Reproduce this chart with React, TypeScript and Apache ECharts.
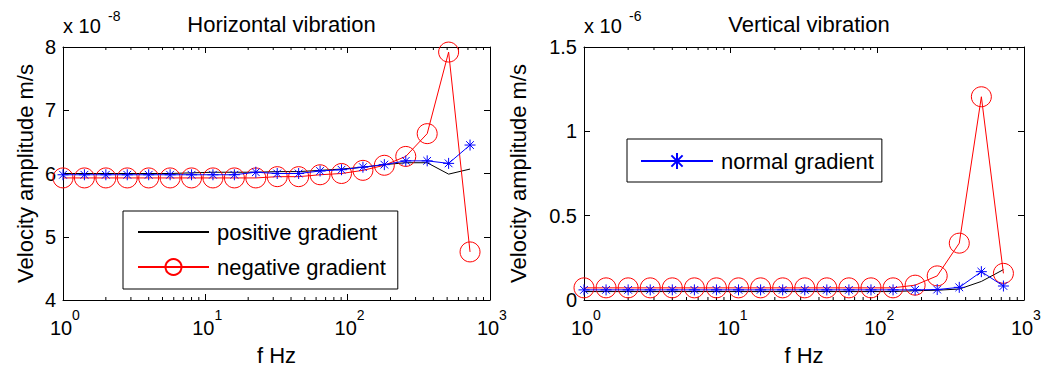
import React, { useEffect, useRef } from "react";
import * as echarts from "echarts";

// frequencies (Hz)
const freq = [1, 1.414, 2, 2.828, 4, 5.657, 8, 11.31, 16, 22.63, 32, 45.25, 64, 90.51, 128, 181, 256, 362, 512, 724];

// Horizontal vibration (x 1e-8 m/s)
const hPositive = [6.0, 6.0, 6.0, 6.0, 6.0, 6.0, 6.01, 6.02, 6.02, 6.02, 6.03, 6.03, 6.05, 6.07, 6.1, 6.14, 6.17, 6.17, 5.99, 6.07];
const hNegative = [5.93, 5.93, 5.93, 5.93, 5.93, 5.93, 5.93, 5.93, 5.93, 5.93, 5.95, 5.95, 5.98, 6.0, 6.05, 6.13, 6.27, 6.63, 7.92, 4.76];
const hNormal = [5.98, 5.98, 5.98, 5.98, 5.98, 5.98, 5.98, 5.98, 5.98, 6.02, 6.0, 6.0, 6.04, 6.06, 6.1, 6.14, 6.2, 6.2, 6.16, 6.45];

// Vertical vibration (x 1e-6 m/s)
const vPositive = [0.05, 0.05, 0.05, 0.05, 0.05, 0.05, 0.05, 0.05, 0.05, 0.05, 0.05, 0.05, 0.05, 0.05, 0.05, 0.055, 0.058, 0.065, 0.11, 0.18];
const vNegative = [0.072, 0.072, 0.072, 0.072, 0.072, 0.072, 0.072, 0.072, 0.072, 0.072, 0.072, 0.072, 0.072, 0.072, 0.072, 0.088, 0.143, 0.337, 1.205, 0.158];
const vNormal = [0.06, 0.06, 0.06, 0.06, 0.06, 0.06, 0.06, 0.06, 0.06, 0.06, 0.06, 0.06, 0.06, 0.06, 0.06, 0.06, 0.062, 0.075, 0.168, 0.083];

const minorTicks = [2, 3, 4, 5, 6, 7, 8, 9, 20, 30, 40, 50, 60, 70, 80, 90, 200, 300, 400, 500, 600, 700, 800, 900];

const titles = ["Horizontal vibration", "Vertical vibration"];
const exponents = ["-8", "-6"];
const seriesNames = ["positive gradient", "negative gradient", "normal gradient"];

const FONT = "'Liberation Sans', Arial, Helvetica, sans-serif";
const STAR = "path://M5,0 L5,10 M0,5 L10,5 M1.5,1.5 L8.5,8.5 M1.5,8.5 L8.5,1.5";

const grids = [
  { left: 63, top: 47, width: 427, height: 253 },
  { left: 584, top: 47, width: 440, height: 253 },
];
const yRanges = [
  { min: 4, max: 8, interval: 1 },
  { min: 0, max: 1.5, interval: 0.5 },
];

export default function App() {
  const ref = useRef<HTMLDivElement>(null);
  useEffect(() => {
    if (!ref.current) return;
    const chart = echarts.init(ref.current, undefined, { renderer: "svg" });

    const xAxes: any[] = [];
    const yAxes: any[] = [];
    [0, 1].forEach((g) => {
      const baseX = {
        type: "log",
        logBase: 10,
        min: 1,
        max: 1000,
        splitNumber: 3,
        gridIndex: g,
        splitLine: { show: false },
        axisLine: { onZero: false, lineStyle: { color: "#000", width: 1 } },
        axisTick: { inside: true, length: 6, lineStyle: { color: "#000" } },
      };
      // bottom axis with "10" labels
      xAxes.push({
        ...baseX,
        position: "bottom",
        name: "f Hz",
        nameLocation: "middle",
        nameGap: 44,
        nameTextStyle: { fontFamily: FONT, fontSize: 22, color: "#000", verticalAlign: "top" },
        axisLabel: {
          margin: 18,
          fontFamily: FONT,
          fontSize: 20,
          lineHeight: 20,
          color: "#000",
          padding: [0, 4, 0, 0],
          formatter: () => "10",
        },
      });
      // top mirror
      xAxes.push({ ...baseX, position: "top", axisLabel: { show: false } });
      // exponent labels
      xAxes.push({
        ...baseX,
        position: "bottom",
        axisLine: { show: false, onZero: false },
        axisTick: { show: false },
        axisLabel: {
          margin: 8,
          fontFamily: FONT,
          fontSize: 14,
          lineHeight: 14,
          color: "#000",
          padding: [0, 0, 0, 26],
          formatter: (v: number) => String(Math.round(Math.log10(v))),
        },
      });
      const baseY = {
        type: "value",
        gridIndex: g,
        ...yRanges[g],
        splitLine: { show: false },
        axisLine: { show: true, onZero: false, lineStyle: { color: "#000", width: 1 } },
        axisTick: { show: true, inside: true, length: 6, lineStyle: { color: "#000" } },
      };
      yAxes.push({
        ...baseY,
        position: "left",
        name: "Velocity amplitude m/s",
        nameLocation: "middle",
        nameRotate: 90,
        nameGap: g === 0 ? 27 : 55,
        nameTextStyle: { fontFamily: FONT, fontSize: 22, color: "#000" },
        axisLabel: { margin: 7, fontFamily: FONT, fontSize: 20, color: "#000" },
      });
      yAxes.push({ ...baseY, position: "right", axisLabel: { show: false } });
    });

    const h = [hPositive, hNegative, hNormal];
    const v = [vPositive, vNegative, vNormal];
    const series: any[] = [];
    [h, v].forEach((sets, g) => {
      const xi = g * 3;
      const yi = g * 2;
      series.push({
        type: "line",
        name: seriesNames[0],
        xAxisIndex: xi,
        yAxisIndex: yi,
        data: freq.map((f, i) => [f, sets[0][i]]),
        symbol: "circle",
        showSymbol: false,
        itemStyle: { color: "transparent" },
        lineStyle: { color: "#000", width: 1 },
        z: 2,
      });
      series.push({
        type: "line",
        name: seriesNames[1],
        xAxisIndex: xi,
        yAxisIndex: yi,
        data: freq.map((f, i) => [f, sets[1][i]]),
        symbol: "circle",
        symbolSize: 20,
        itemStyle: { color: "transparent", borderColor: "#ff0000", borderWidth: 1 },
        lineStyle: { color: "#ff0000", width: 1 },
        z: 3,
      });
      series.push({
        type: "line",
        name: seriesNames[2],
        xAxisIndex: xi,
        yAxisIndex: yi,
        data: freq.map((f, i) => [f, sets[2][i]]),
        symbol: STAR,
        symbolSize: 11,
        itemStyle: { color: "transparent", borderColor: "#0000ff", borderWidth: 1 },
        lineStyle: { color: "#0000ff", width: 1 },
        z: 4,
      });
      // minor log ticks (bottom and top)
      series.push({
        type: "custom",
        xAxisIndex: xi,
        yAxisIndex: yi,
        silent: true,
        data: minorTicks.map((m) => [m, yRanges[g].min]),
        renderItem: (params: any, api: any) => {
          const p = api.coord([api.value(0), api.value(1)]);
          const cs = params.coordSys;
          const top = cs.y;
          const bottom = cs.y + cs.height;
          return {
            type: "group",
            children: [
              { type: "line", shape: { x1: p[0], y1: bottom, x2: p[0], y2: bottom - 3 }, style: { stroke: "#000", lineWidth: 1 } },
              { type: "line", shape: { x1: p[0], y1: top, x2: p[0], y2: top + 3 }, style: { stroke: "#000", lineWidth: 1 } },
            ],
          };
        },
        z: 1,
      });
    });

    const graphic: any[] = [];
    exponents.forEach((e, i) => {
      graphic.push({
        type: "text",
        left: grids[i].left,
        top: 16,
        style: { text: "x 10", fontFamily: FONT, fontSize: 20, fill: "#000" },
      });
      graphic.push({
        type: "text",
        left: grids[i].left + 45,
        top: 9,
        style: { text: e, fontFamily: FONT, fontSize: 14, fill: "#000" },
      });
    });

    const option: any = {
      animation: false,
      backgroundColor: "#fff",
      title: titles.map((t, i) => ({
        text: t,
        left: grids[i].left + grids[i].width / 2,
        top: 8,
        textAlign: "center",
        textStyle: { fontFamily: FONT, fontSize: 22, fontWeight: "normal", color: "#000" },
      })),
      legend: [
        {
          data: [seriesNames[0], seriesNames[1]],
          orient: "vertical",
          left: 123,
          top: 211,
          itemWidth: 71,
          itemHeight: 20,
          itemGap: 13,
          padding: [10, 12, 11, 14],
          borderColor: "#000",
          borderWidth: 1,
          backgroundColor: "#fff",
          textStyle: { fontFamily: FONT, fontSize: 22, color: "#000", padding: [0, 0, 0, 3] },
          selectedMode: false,
        },
        {
          data: [seriesNames[2]],
          orient: "vertical",
          left: 627,
          top: 139,
          itemWidth: 72,
          itemHeight: 20,
          padding: [11, 8, 10, 13],
          borderColor: "#000",
          borderWidth: 1,
          backgroundColor: "#fff",
          textStyle: { fontFamily: FONT, fontSize: 22, color: "#000", padding: [0, 0, 0, 3] },
          selectedMode: false,
        },
      ],
      graphic,
      grid: grids.map((g) => ({ ...g, containLabel: false })),
      xAxis: xAxes,
      yAxis: yAxes,
      series,
    };
    chart.setOption(option);
    return () => chart.dispose();
  }, []);
  return (
    <div
      ref={ref}
      style={{ position: "fixed", left: 0, top: 0, width: 1051, height: 374, background: "#fff" }}
    />
  );
}
